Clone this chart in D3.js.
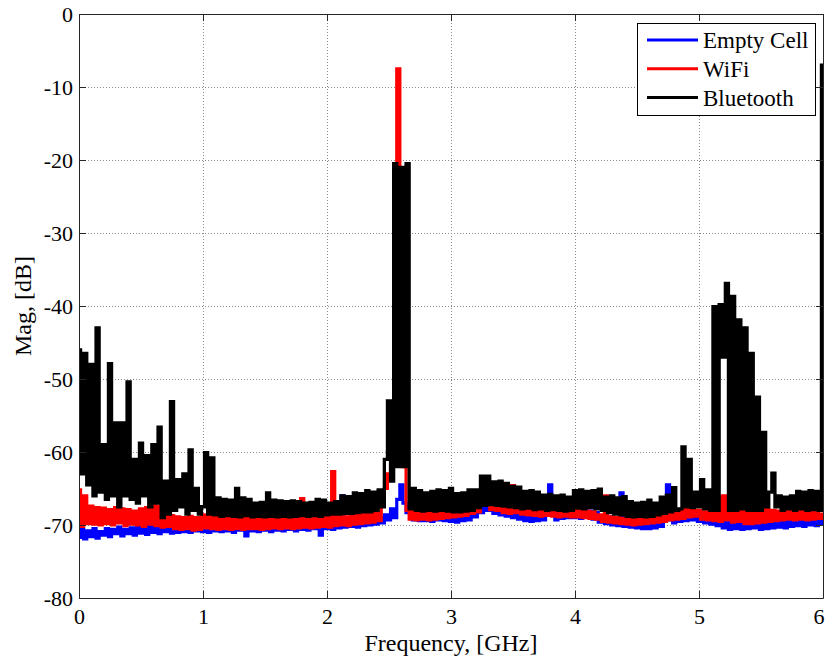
<!DOCTYPE html>
<head>
<meta charset="utf-8">
<script src="https://d3js.org/d3.v7.min.js"></script>
<style>
  body { margin: 0; background: #fff; }
  svg { display: block; font-family: 'Liberation Serif', 'Times New Roman', serif; }
</style>
<title>Spectrum</title>
</head>
<body>
<div id="vis"></div>
<script>
// samples every 25 MHz from 0 to 6 GHz
const stepGHz = 0.025
const xTicks = [0, 1, 2, 3, 4, 5, 6]
const yTicks = [0, -10, -20, -30, -40, -50, -60, -70, -80]
const seriesNames = ['Empty Cell', 'WiFi', 'Bluetooth']
const seriesColors = ['#0000ff', '#ff0000', '#000000']

const emptyCell = [
  -71.7, -70.6, -71.9, -70.8, -71.6, -70.5, -71.8, -70.9,
  -71.4, -70.5, -71.6, -70.6, -71.2, -70.3, -71.5, -70.6,
  -71.2, -70.4, -71.4, -70.3, -71.1, -70.4, -71.3, -70.2,
  -71.0, -70.1, -71.2, -70.3, -70.9, -70.0, -71.1, -70.3,
  -71.0, -70.2, -70.9, -70.1, -71.0, -70.3, -70.8, -70.0,
  -70.9, -70.1, -71.0, -70.2, -70.8, -70.0, -70.9, -70.2,
  -70.8, -70.0, -71.0, -70.1, -70.7, -70.0, -71.5, -70.2,
  -70.8, -70.0, -70.9, -70.1, -70.7, -69.9, -70.9, -70.1,
  -70.7, -69.9, -70.8, -70.0, -70.6, -69.8, -70.8, -70.0,
  -70.6, -69.8, -70.7, -69.9, -70.5, -69.8, -71.4, -69.9,
  -70.5, -69.7, -70.6, -69.8, -70.4, -66.0, -70.3, -69.6,
  -70.2, -69.5, -70.3, -69.4, -70.1, -69.3, -70.0, -69.2,
  -69.9, -69.0, -69.7, -68.6, -69.3, -67.8, -69.0, -66.5,
  -64.5, -67.0, -68.3, -67.5, -69.3, -68.3, -69.4, -68.4,
  -69.4, -68.4, -69.5, -68.5, -69.3, -68.3, -69.4, -68.6,
  -69.5, -68.6, -69.6, -68.7, -69.4, -68.4, -69.3, -68.2,
  -68.9, -67.6, -68.3, -66.7, -68.0, -66.9, -68.4, -67.3,
  -68.6, -67.6, -68.8, -67.8, -69.0, -68.0, -69.2, -68.2,
  -69.4, -68.4, -69.5, -68.5, -69.4, -68.3, -69.3, -68.3,
  -64.5, -68.4, -69.3, -68.3, -69.1, -68.1, -69.0, -68.0,
  -69.0, -67.9, -69.1, -68.0, -68.9, -68.1, -69.2, -68.3,
  -69.6, -68.7, -69.8, -68.9, -70.0, -69.0, -70.1, -65.6,
  -70.2, -69.3, -70.3, -69.4, -70.4, -69.5, -70.5, -69.5,
  -70.5, -69.6, -70.4, -69.5, -70.2, -69.4, -64.5, -69.3,
  -69.7, -68.7, -69.5, -68.5, -69.4, -68.4, -69.3, -68.5,
  -69.5, -68.6, -69.7, -68.8, -69.9, -69.0, -70.1, -69.2,
  -70.4, -69.4, -70.6, -69.5, -70.5, -69.4, -70.6, -69.6,
  -70.5, -69.5, -70.4, -69.6, -70.6, -69.5, -70.5, -69.4,
  -70.4, -69.4, -70.3, -69.5, -70.4, -69.3, -70.2, -69.2,
  -70.1, -69.1, -70.2, -69.2, -70.0, -69.0, -70.1, -69.1,
  -69.9
]

const wifi = [
  -65.2, -70.2, -66.0, -69.8, -67.4, -69.9, -67.6, -70.0,
  -67.7, -69.8, -67.9, -70.0, -67.6, -69.7, -67.8, -70.1,
  -67.9, -69.9, -68.1, -70.0, -67.8, -70.2, -67.6, -69.9,
  -67.0, -70.1, -67.4, -70.3, -67.9, -70.2, -68.7, -70.5,
  -68.9, -70.6, -69.0, -70.5, -68.8, -70.7, -69.0, -70.6,
  -68.6, -70.4, -68.7, -70.5, -68.9, -70.6, -69.0, -70.5,
  -69.0, -70.6, -68.9, -70.5, -69.1, -70.6, -69.0, -70.5,
  -69.0, -70.5, -69.1, -70.6, -68.9, -70.5, -69.0, -70.4,
  -69.1, -70.5, -69.0, -70.4, -69.2, -70.5, -69.0, -70.4,
  -66.4, -70.3, -69.0, -70.4, -69.1, -70.3, -68.9, -70.2,
  -68.9, -70.3, -62.7, -70.1, -68.8, -70.0, -68.9, -70.1,
  -68.7, -69.9, -68.6, -69.8, -68.5, -69.7, -68.4, -69.6,
  -68.3, -69.4, -67.0, -65.0, -63.0, -60.0, -52.0, -7.5,
  -43.0, -62.0, -68.0, -69.2, -68.1, -69.3, -68.0, -69.2,
  -68.1, -69.3, -68.0, -69.2, -67.9, -69.1, -67.8, -69.0,
  -67.6, -68.9, -67.5, -68.8, -67.4, -68.7, -67.2, -68.4,
  -67.0, -68.2, -66.7, -63.5, -66.6, -67.9, -66.8, -68.0,
  -67.2, -68.3, -67.4, -68.4, -64.6, -68.3, -67.5, -68.5,
  -67.6, -68.6, -67.7, -68.7, -67.8, -68.8, -67.9, -68.7,
  -67.8, -68.8, -67.9, -68.9, -67.8, -68.8, -67.7, -68.9,
  -67.9, -68.9, -68.0, -69.0, -68.1, -69.1, -68.2, -69.2,
  -68.6, -69.5, -66.0, -69.6, -68.9, -69.7, -69.0, -69.8,
  -69.1, -69.9, -69.2, -70.0, -69.1, -69.9, -69.0, -69.8,
  -68.9, -69.7, -68.8, -69.6, -68.6, -69.5, -68.4, -69.3,
  -68.2, -69.2, -68.0, -69.1, -67.6, -68.9, -67.5, -68.8,
  -68.0, -69.2, -68.2, -69.3, -67.0, -69.4, -66.2, -69.5,
  -66.0, -69.3, -66.5, -69.6, -67.0, -69.5, -66.3, -69.8,
  -67.8, -69.8, -67.9, -69.7, -68.0, -69.6, -67.9, -69.5,
  -68.0, -69.4, -68.1, -69.3, -67.9, -69.2, -68.0, -69.3,
  -68.1, -69.2, -68.0, -69.3, -68.1, -69.2, -68.0, -69.1,
  -68.5
]

const bluetooth = [
  -46.0, -63.0, -46.5, -64.5, -48.0, -66.0, -43.0, -65.5,
  -59.0, -66.5, -47.9, -66.0, -56.0, -67.5, -56.0, -66.0,
  -50.4, -66.5, -61.0, -67.0, -58.8, -66.0, -60.5, -67.5,
  -59.0, -67.0, -56.6, -69.0, -64.0, -68.5, -53.1, -68.0,
  -63.8, -67.5, -63.0, -68.5, -59.7, -68.0, -65.0, -68.5,
  -67.5, -60.1, -68.5, -60.8, -68.6, -66.3, -68.8, -66.5,
  -68.7, -66.6, -68.8, -65.0, -68.9, -66.3, -68.7, -66.5,
  -68.9, -67.0, -68.8, -66.9, -68.9, -65.6, -68.8, -66.6,
  -68.9, -66.7, -68.8, -66.8, -68.9, -66.7, -68.8, -66.8,
  -68.7, -67.0, -68.8, -66.9, -68.7, -66.5, -68.8, -66.6,
  -68.6, -67.0, -68.5, -66.8, -68.5, -66.0, -68.4, -66.1,
  -68.4, -65.6, -68.3, -65.7, -68.2, -65.3, -68.2, -65.5,
  -68.0, -65.2, -67.5, -61.0, -53.0, -64.0, -20.5, -62.0,
  -21.0, -62.0, -20.5, -67.8, -65.0, -68.0, -65.3, -68.1,
  -65.6, -68.0, -65.4, -68.1, -65.2, -68.0, -65.3, -68.1,
  -65.0, -68.2, -65.7, -68.2, -65.6, -68.1, -65.2, -68.0,
  -65.2, -67.6, -63.3, -67.3, -63.3, -67.2, -64.1, -67.3,
  -64.0, -67.4, -64.3, -67.5, -64.7, -67.6, -64.8, -67.8,
  -65.4, -67.7, -65.3, -67.9, -65.5, -67.8, -65.9, -68.0,
  -65.8, -67.9, -66.0, -68.0, -65.9, -68.1, -66.2, -68.0,
  -65.3, -67.7, -65.2, -67.8, -65.4, -67.6, -65.3, -67.8,
  -65.1, -68.0, -66.2, -68.3, -66.0, -68.5, -66.3, -68.6,
  -66.1, -68.8, -66.8, -68.9, -67.0, -68.8, -66.9, -68.9,
  -66.6, -68.8, -67.0, -68.6, -66.2, -68.4, -65.9, -68.2,
  -64.9, -68.0, -67.8, -59.3, -67.5, -61.0, -67.6, -65.5,
  -67.5, -63.8, -67.8, -65.2, -68.0, -40.1, -68.0, -39.8,
  -47.0, -36.9, -68.0, -38.7, -68.0, -41.9, -67.8, -43.0,
  -68.0, -46.5, -68.0, -52.5, -68.0, -57.3, -67.5, -65.5,
  -62.9, -67.5, -66.0, -68.0, -66.2, -67.8, -66.0, -68.0,
  -65.4, -67.8, -65.5, -68.0, -65.3, -67.9, -65.4, -68.0,
  -7.0
]

const series = [emptyCell, wifi, bluetooth]

const width = 825
const height = 657
const plot = { left: 79, right: 823, top: 14, bottom: 598 }
const axisColor = '#262626'

const x = d3.scaleLinear().domain([0, 6]).range([plot.left, plot.right])
const y = d3.scaleLinear().domain([-80, 0]).range([plot.bottom, plot.top])

const svg = d3.select('#vis')
  .append('svg')
  .attr('width', width)
  .attr('height', height)

svg.append('rect')
  .attr('width', width)
  .attr('height', height)
  .attr('fill', '#fff')

svg.append('clipPath')
  .attr('id', 'plotclip')
  .append('rect')
  .attr('x', plot.left)
  .attr('y', plot.top)
  .attr('width', plot.right - plot.left + 1)
  .attr('height', plot.bottom - plot.top)

// dotted grid
const grid = svg.append('g')
  .attr('stroke', '#8a8a8a')
  .attr('stroke-width', 1)
  .attr('stroke-dasharray', '1,2')

grid.selectAll('.gx')
  .data(xTicks.slice(1, -1))
  .enter()
  .append('line')
  .attr('x1', d => x(d) + 0.5)
  .attr('x2', d => x(d) + 0.5)
  .attr('y1', plot.top)
  .attr('y2', plot.bottom)

grid.selectAll('.gy')
  .data(yTicks.slice(1, -1))
  .enter()
  .append('line')
  .attr('x1', plot.left)
  .attr('x2', plot.right)
  .attr('y1', d => y(d) + 0.5)
  .attr('y2', d => y(d) + 0.5)

// traces, drawn in legend order so Bluetooth ends on top
const line = d3.line()
  .x((d, i) => x(i * stepGHz))
  .y(d => y(d))
  .curve(d3.curveStep)

svg.append('g')
  .attr('clip-path', 'url(#plotclip)')
  .selectAll('path')
  .data(series)
  .enter()
  .append('path')
  .attr('d', line)
  .attr('fill', 'none')
  .attr('stroke', (d, i) => seriesColors[i])
  .attr('stroke-width', (d, i) => i === 2 ? 3.3 : 3.2)
  .attr('stroke-linejoin', 'miter')

// axes, ticks inward on all four sides
const fmt = d => String(d)
const xAxis = d3.axisBottom(x).tickValues(xTicks).tickFormat(fmt).tickSize(-7).tickSizeOuter(0).tickPadding(10)
const yAxis = d3.axisLeft(y).tickValues(yTicks).tickFormat(fmt).tickSize(-7).tickSizeOuter(0).tickPadding(6)

const gx = svg.append('g')
  .attr('transform', `translate(0,${plot.bottom})`)
  .call(xAxis)
const gy = svg.append('g')
  .attr('transform', `translate(${plot.left},0)`)
  .call(yAxis)
const gt = svg.append('g')
  .attr('transform', `translate(0,${plot.top})`)
  .call(d3.axisTop(x).tickValues(xTicks).tickSize(-7).tickSizeOuter(0).tickFormat(''))
const gr = svg.append('g')
  .attr('transform', `translate(${plot.right},0)`)
  .call(d3.axisRight(y).tickValues(yTicks).tickSize(-7).tickSizeOuter(0).tickFormat(''))

;[gx, gy, gt, gr].forEach(g => {
  g.attr('color', axisColor)
  g.selectAll('text')
    .attr('fill', '#000')
    .style('font-size', '22px')
    .style('font-family', "'Liberation Serif', 'Times New Roman', serif")
})

// last x label sits on the window edge; keep it inside
gx.selectAll('text')
  .filter(d => d === 6)
  .attr('text-anchor', 'end')
  .attr('dx', 1)

svg.append('text')
  .attr('x', (plot.left + plot.right) / 2)
  .attr('y', 651)
  .attr('text-anchor', 'middle')
  .style('font-size', '24px')
  .text('Frequency, [GHz]')

svg.append('text')
  .attr('transform', `translate(31,${(plot.top + plot.bottom) / 2}) rotate(-90)`)
  .attr('text-anchor', 'middle')
  .style('font-size', '24px')
  .text('Mag, [dB]')

// legend
const legend = svg.append('g')

legend.append('rect')
  .attr('x', 637.5)
  .attr('y', 23.5)
  .attr('width', 178)
  .attr('height', 92)
  .attr('fill', '#fff')
  .attr('stroke', '#000')
  .attr('stroke-width', 1)

const rows = legend.selectAll('.row')
  .data(seriesNames)
  .enter()
  .append('g')
  .attr('transform', (d, i) => `translate(0,${40 + i * 28.8})`)

rows.append('line')
  .attr('x1', 647)
  .attr('x2', 698)
  .attr('stroke', (d, i) => seriesColors[i])
  .attr('stroke-width', 3)

rows.append('text')
  .attr('x', 703)
  .attr('dy', '0.35em')
  .style('font-size', '23px')
  .text(d => d)
</script>
</body>
